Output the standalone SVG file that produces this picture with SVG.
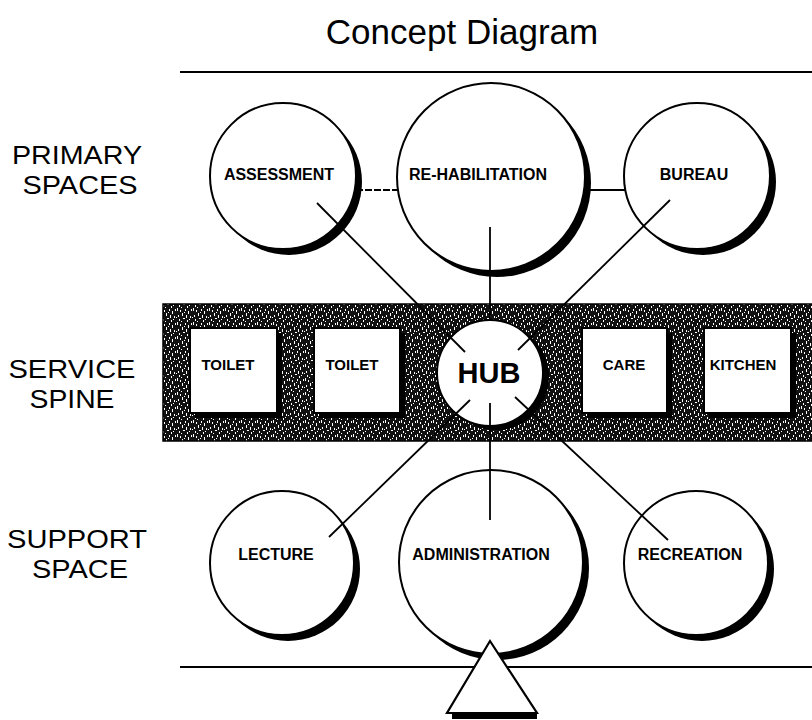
<svg xmlns="http://www.w3.org/2000/svg" width="812" height="720" viewBox="0 0 812 720">
<defs>
<pattern id="tex" width="16" height="14" patternUnits="userSpaceOnUse">
<rect width="16" height="14" fill="#111"/>
<g fill="#fff">
<rect x="1" y="0" width="1" height="3"/><rect x="4" y="2" width="1" height="2"/><rect x="6" y="5" width="1" height="3"/>
<rect x="9" y="1" width="1" height="2"/><rect x="12" y="3" width="1" height="3"/><rect x="14" y="8" width="1" height="2"/>
<rect x="2" y="7" width="1" height="2"/><rect x="3" y="11" width="1" height="2"/><rect x="7" y="10" width="2" height="1"/>
<rect x="10" y="7" width="1" height="3"/><rect x="11" y="12" width="1" height="2"/><rect x="13" y="11" width="1" height="1"/>
<rect x="0" y="9" width="1" height="1"/><rect x="8" y="4" width="1" height="1"/><rect x="15" y="1" width="1" height="2"/>
<rect x="5" y="13" width="1" height="1"/>
</g>
</pattern>
</defs>
<style>
.lbl{font-family:"Liberation Sans",Arial,sans-serif;font-size:26px;text-anchor:middle;fill:#000}
.title{font-family:"Liberation Sans",Arial,sans-serif;font-size:35px;text-anchor:middle;fill:#000}
.nt{font-family:"Liberation Sans",Arial,sans-serif;font-weight:bold;font-size:16px;text-anchor:middle;fill:#000}
.bt{font-family:"Liberation Sans",Arial,sans-serif;font-weight:bold;font-size:15px;text-anchor:middle;fill:#000}
.hubt{font-family:"Liberation Sans",Arial,sans-serif;font-weight:bold;font-size:29px;text-anchor:middle;fill:#000}
.node{fill:#fff;stroke:#000;stroke-width:2}
.sh{fill:#000}
.rule{stroke:#000;stroke-width:2.2;fill:none}
.con{stroke:#000;stroke-width:1.8;fill:none}
</style>
<rect width="812" height="720" fill="#fff"/>
<text class="title" x="462" y="44">Concept Diagram</text>
<g id="rules">
<line class="rule" x1="180" y1="72" x2="812" y2="72"/>
<line class="rule" x1="180" y1="667" x2="812" y2="667"/>
</g>
<g id="row-labels">
<text class="lbl" x="77" y="164" textLength="130" lengthAdjust="spacingAndGlyphs">PRIMARY</text>
<text class="lbl" x="80" y="194" textLength="115" lengthAdjust="spacingAndGlyphs">SPACES</text>
<text class="lbl" x="72" y="378" textLength="127" lengthAdjust="spacingAndGlyphs">SERVICE</text>
<text class="lbl" x="72" y="408" textLength="85" lengthAdjust="spacingAndGlyphs">SPINE</text>
<text class="lbl" x="77" y="548" textLength="140" lengthAdjust="spacingAndGlyphs">SUPPORT</text>
<text class="lbl" x="80" y="578" textLength="96" lengthAdjust="spacingAndGlyphs">SPACE</text>
</g>
<g id="service-spine">
<rect x="163" y="304" width="652" height="137" fill="url(#tex)" stroke="#000" stroke-width="1.5"/>
</g>
<g id="toilet-1">
<rect class="sh" x="195" y="333" width="87" height="85"/>
<rect class="node" x="190" y="328" width="87" height="85"/>
<text class="bt" x="228" y="370">TOILET</text>
</g>
<g id="toilet-2">
<rect class="sh" x="319" y="333" width="86" height="85"/>
<rect class="node" x="314" y="328" width="86" height="85"/>
<text class="bt" x="352" y="370">TOILET</text>
</g>
<g id="care">
<rect class="sh" x="587" y="333" width="85" height="85"/>
<rect class="node" x="582" y="328" width="85" height="85"/>
<text class="bt" x="624" y="370">CARE</text>
</g>
<g id="kitchen">
<rect class="sh" x="709" y="333" width="87" height="85"/>
<rect class="node" x="704" y="328" width="87" height="85"/>
<text class="bt" x="743" y="370">KITCHEN</text>
</g>
<g id="hub">
<circle class="sh" cx="496" cy="377" r="53"/>
<circle class="node" cx="490" cy="373" r="53"/>
<text class="hubt" x="489" y="383">HUB</text>
</g>
<g id="assessment">
<circle class="sh" cx="289" cy="182" r="73"/>
<circle class="node" cx="283" cy="176" r="73"/>
<text class="nt" x="279" y="180">ASSESSMENT</text>
</g>
<g id="re-habilitation">
<circle class="sh" cx="497" cy="183" r="94"/>
<circle class="node" cx="491" cy="177" r="94"/>
<text class="nt" x="478" y="180">RE-HABILITATION</text>
</g>
<g id="bureau">
<circle class="sh" cx="703" cy="182" r="73"/>
<circle class="node" cx="697" cy="176" r="73"/>
<text class="nt" x="694" y="180">BUREAU</text>
</g>
<g id="lecture">
<circle class="sh" cx="288" cy="569" r="72"/>
<circle class="node" cx="282" cy="563" r="72"/>
<text class="nt" x="276" y="560">LECTURE</text>
</g>
<g id="administration">
<circle class="sh" cx="497" cy="568" r="92"/>
<circle class="node" cx="491" cy="562" r="92"/>
<text class="nt" x="481" y="560">ADMINISTRATION</text>
</g>
<g id="recreation">
<circle class="sh" cx="702" cy="569" r="72"/>
<circle class="node" cx="696" cy="563" r="72"/>
<text class="nt" x="690" y="560">RECREATION</text>
</g>
<g id="connectors">
<line class="con" x1="356" y1="190" x2="398" y2="190" stroke-dasharray="7 2"/>
<line class="con" x1="584" y1="190" x2="625" y2="190"/>
<line class="con" x1="317" y1="203" x2="465" y2="352"/>
<line class="con" x1="490" y1="227" x2="490" y2="320"/>
<line class="con" x1="670" y1="200" x2="518" y2="350"/>
<line class="con" x1="470" y1="400" x2="329" y2="537"/>
<line class="con" x1="490" y1="403" x2="490" y2="520"/>
<line class="con" x1="515" y1="397" x2="668" y2="540"/>
</g>
<g id="entrance">
<rect class="sh" x="452" y="712" width="85" height="7"/>
<polygon points="490,641 447,713 537,713" fill="#fff" stroke="#000" stroke-width="2.2"/>
</g>
</svg>
